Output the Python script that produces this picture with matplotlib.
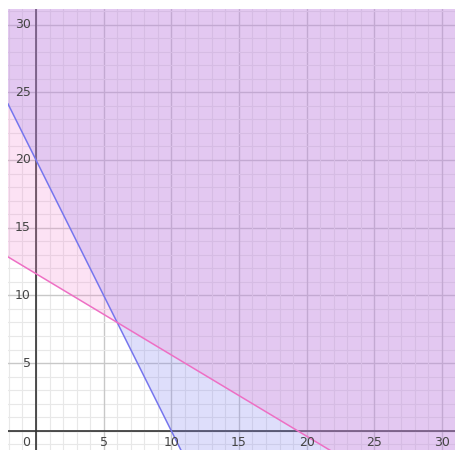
import numpy as np
import matplotlib.pyplot as plt

# two inequalities: y >= 20 - 2x (blue) and y >= 11.6 - 0.6x (pink)
blue_intercept = 20
blue_slope = -2
pink_intercept = 11.6
pink_slope = -0.6

tick_vals = [5, 10, 15, 20, 25, 30]
xlim = (-2.07, 30.97)
ylim = (-1.42, 31.15)

blue_col = "#8282f0"
blue_line = "#7676ee"
pink_col = "#f386d2"
pink_line = "#ee6fc4"

fig = plt.figure(figsize=(4.55, 4.5), dpi=100)
ax = fig.add_axes([8 / 455, 0, 447 / 455, 441 / 450])
ax.set_xlim(xlim)
ax.set_ylim(ylim)

# grid: minor every 1, major every 5
for v in range(-2, 32):
    major = v % 5 == 0
    c = "#c8c8c8" if major else "#e8e8e8"
    lw = 1.0 if major else 0.8
    ax.axvline(v, color=c, lw=lw, zorder=0)
    ax.axhline(v, color=c, lw=lw, zorder=0)

ax.axhline(0, color="#333333", lw=1.2, zorder=1)
ax.axvline(0, color="#333333", lw=1.2, zorder=1)

x = np.linspace(xlim[0], xlim[1], 400)
yb = blue_intercept + blue_slope * x
yp = pink_intercept + pink_slope * x

ax.fill_between(x, yb, ylim[1] + 5, color=blue_col, alpha=0.26, lw=0, zorder=2)
ax.fill_between(x, yp, ylim[1] + 5, color=pink_col, alpha=0.24, lw=0, zorder=2)
ax.plot(x, yb, color=blue_line, lw=1.1, zorder=3)
ax.plot(x, yp, color=pink_line, lw=1.1, zorder=3)

# Desmos-style labels next to the axes
for v in tick_vals:
    ax.text(v, -0.4, str(v), ha="center", va="top", fontsize=9, color="#444444", zorder=4)
    ax.text(-0.4, v, str(v), ha="right", va="center", fontsize=9, color="#444444", zorder=4)
ax.text(-0.4, -0.4, "0", ha="right", va="top", fontsize=9, color="#444444", zorder=4)

ax.set_xticks([])
ax.set_yticks([])
for s in ax.spines.values():
    s.set_visible(False)

fig.savefig("out.png", dpi=100)
